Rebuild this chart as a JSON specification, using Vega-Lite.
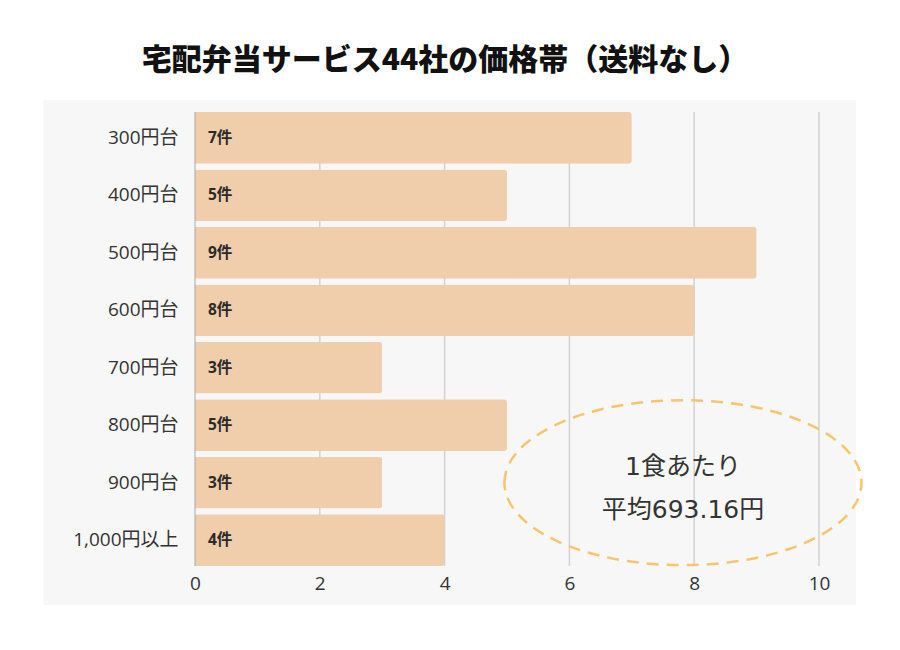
{
  "$schema": "https://vega.github.io/schema/vega-lite/v6.json",
  "width": 624,
  "height": 454,
  "autosize": {"type": "none"},
  "padding": {"left": 195, "top": 112, "right": 81, "bottom": 84},
  "background": "white",
  "config": {
    "view": {"stroke": null},
    "font": "Noto Sans CJK JP"
  },
  "title": {
    "text": "宅配弁当サービス44社の価格帯（送料なし）",
    "font": "Noto Sans CJK JP",
    "fontSize": 30,
    "fontWeight": 900,
    "color": "#111111",
    "anchor": "middle",
    "dx": -62,
    "offset": 24
  },
  "datasets": {
    "bands": [
      {"range": "300円台", "count": 7, "label": "7件"},
      {"range": "400円台", "count": 5, "label": "5件"},
      {"range": "500円台", "count": 9, "label": "9件"},
      {"range": "600円台", "count": 8, "label": "8件"},
      {"range": "700円台", "count": 3, "label": "3件"},
      {"range": "800円台", "count": 5, "label": "5件"},
      {"range": "900円台", "count": 3, "label": "3件"},
      {"range": "1,000円以上", "count": 4, "label": "4件"}
    ],
    "grid": [{"tick": 2}, {"tick": 4}, {"tick": 6}, {"tick": 8}, {"tick": 10}]
  },
  "layer": [
    {
      "data": {"values": [{}]},
      "mark": {"type": "rect", "color": "#f7f7f7"},
      "encoding": {
        "x": {"datum": -2.43, "type": "quantitative", "scale": {"domain": [0, 10], "nice": false, "zero": false}, "title": null},
        "x2": {"datum": 10.59},
        "y": {"datum": -0.086, "type": "quantitative", "scale": {"domain": [0, 1], "nice": false, "zero": false}, "axis": null},
        "y2": {"datum": 1.026}
      }
    },
    {
      "data": {"name": "bands"},
      "layer": [
        {
          "data": {"name": "grid"},
          "mark": {"type": "rule", "color": "#d2d2d2", "strokeWidth": 1.5},
          "encoding": {"x": {"field": "tick", "type": "quantitative", "title": null}}
        },
        {
          "mark": {"type": "bar", "color": "#f0cdab", "cornerRadiusEnd": 3},
          "encoding": {
            "y": {"field": "range", "type": "nominal", "sort": null, "title": null, "scale": {"paddingInner": 0.1, "paddingOuter": 0},
              "axis": {"zindex": 2, "domain": false, "ticks": false, "grid": false, "labelFontSize": 19, "labelColor": "#333333", "labelPadding": 17, "labelFont": "Open Sans, Noto Sans CJK JP"}},
            "x": {"field": "count", "type": "quantitative", "title": null,
              "axis": {"zindex": 2, "domain": false, "ticks": false, "grid": false, "labelFontSize": 19, "labelColor": "#333333", "labelPadding": 8, "labelFlush": false, "values": [0, 2, 4, 6, 8, 10], "format": "d", "labelFont": "Open Sans, Noto Sans CJK JP"}}
          }
        },
        {
          "data": {"values": [{"zero": 0}]},
          "mark": {"type": "rule", "color": "#a8a8a8", "strokeWidth": 1},
          "encoding": {"x": {"field": "zero", "type": "quantitative", "title": null}}
        },
        {
          "mark": {"type": "text", "align": "left", "baseline": "middle", "dx": 13, "fontSize": 15.5, "fontWeight": "bold", "color": "#2a2a2a", "font": "Open Sans, Noto Sans CJK JP"},
          "encoding": {
            "y": {"field": "range", "type": "nominal", "sort": null, "title": null},
            "x": {"datum": 0, "type": "quantitative", "title": null},
            "text": {"field": "label"}
          }
        },
        {
          "data": {"values": [{"note": "avg"}]},
          "mark": {"type": "point", "shape": "M-1,0A1,0.462,0,1,1,1,0A1,0.462,0,1,1,-1,0Z", "filled": false, "size": 127449, "stroke": "#f8c46e", "strokeWidth": 2.5, "strokeDash": [12, 8], "opacity": 1},
          "encoding": {
            "x": {"datum": 7.82, "type": "quantitative", "title": null},
            "y": {"datum": "900円台", "type": "nominal", "title": null}
          }
        },
        {
          "data": {"values": [{"note": "avg"}]},
          "mark": {"type": "text", "align": "center", "baseline": "middle", "dy": -16, "fontSize": 25, "lineHeight": 43, "color": "#333333", "font": "DejaVu Sans, Noto Sans CJK JP", "text": ["1食あたり", "平均693.16円"]},
          "encoding": {
            "x": {"datum": 7.82, "type": "quantitative", "title": null},
            "y": {"datum": "900円台", "type": "nominal", "title": null}
          }
        }
      ]
    }
  ],
  "resolve": {"scale": {"y": "independent"}}
}
